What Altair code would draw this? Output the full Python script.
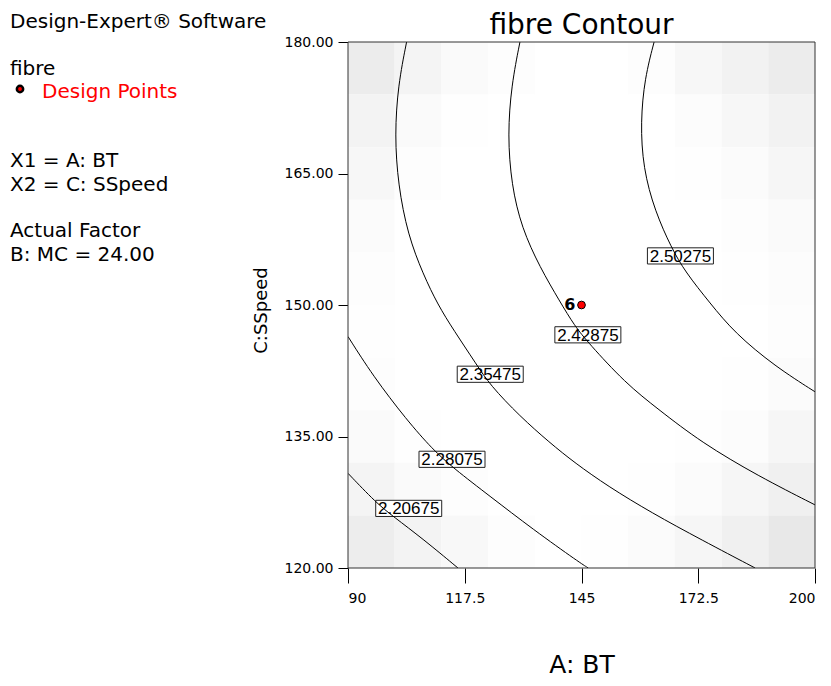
import altair as alt
import pandas as pd

# ---------------- data ----------------
LEVELS = ["2.20675", "2.28075", "2.35475", "2.42875", "2.50275"]

C1_X = [90.0, 96.7, 100.6, 107.7, 115.9]
C1_Y = [130.8, 127.4, 125.9, 123.3, 120.0]
C2_X = [90.0, 95.9, 103.8, 110.0, 114.8, 123.4, 133.6, 144.6, 146.6]
C2_Y = [146.4, 141.9, 136.9, 133.5, 131.4, 128.2, 124.4, 120.6, 120.0]
C3_X = [103.8, 101.8, 101.0, 101.8, 104.1, 107.7, 111.2, 114.8, 120.3, 123.4,
        130.5, 137.5, 143.4, 151.3, 161.5, 173.3, 185.9]
C3_Y = [180.0, 175.1, 169.4, 163.7, 158.0, 153.5, 150.0, 147.2, 143.2, 140.9,
        137.3, 134.3, 132.0, 129.3, 126.3, 123.2, 120.0]
C4_X = [130.5, 128.5, 127.6, 128.5, 130.9, 135.2, 139.9, 143.4, 146.6, 155.3,
        163.1, 173.3, 186.6, 200.0]
C4_Y = [180.0, 175.1, 169.4, 163.7, 158.8, 154.3, 150.4, 147.6, 145.7, 141.1,
        138.1, 134.3, 130.5, 127.2]
C5_X = [162.1, 159.9, 158.9, 159.5, 162.3, 166.2, 169.4, 175.3, 181.1, 190.6, 200.0]
C5_Y = [180.0, 175.9, 170.9, 165.6, 160.7, 156.5, 153.8, 150.2, 146.8, 143.0, 140.1]

LABEL_X = [104.3, 114.5, 123.5, 146.5, 168.3]
LABEL_Y = [126.8, 132.4, 142.1, 146.6, 155.6]

DP_X = [145.0]
DP_Y = [150.0]
DP_LABEL = ["6"]

X_TICKS = [90, 117.5, 145, 172.5, 200]
Y_TICKS = [120, 135, 150, 165, 180]

# background shading (grey intensity, rows top -> bottom, cols left -> right)
SHADE = [
    [237, 245, 250, 253, 255, 255, 253, 248, 243, 237],
    [244, 250, 254, 255, 255, 255, 255, 252, 248, 243],
    [248, 253, 255, 255, 255, 255, 255, 254, 251, 247],
    [251, 255, 255, 255, 255, 255, 255, 255, 253, 250],
    [253, 255, 255, 255, 255, 255, 255, 255, 254, 252],
    [254, 255, 255, 255, 255, 255, 255, 255, 255, 253],
    [253, 255, 255, 255, 255, 255, 255, 255, 254, 251],
    [250, 254, 255, 255, 255, 255, 255, 254, 252, 247],
    [245, 250, 253, 255, 255, 255, 254, 251, 247, 241],
    [238, 244, 249, 253, 255, 254, 251, 247, 241, 234],
]

TITLE = "fibre Contour"
PANEL_TEXT = ["Design-Expert\u00ae Software", "fibre", "Design Points",
              "X1 = A: BT", "X2 = C: SSpeed", "Actual Factor", "B: MC = 24.00"]
PANEL_COLOR = ["black", "black", "red", "black", "black", "black", "black"]

# ---------------- tables ----------------
W, H = 467, 526
FONT = "DejaVu Sans"
XMIN, XMAX, YMIN, YMAX = 90, 200, 120, 180

rows = []
for lev, xs, ys in zip(LEVELS, [C1_X, C2_X, C3_X, C4_X, C5_X],
                       [C1_Y, C2_Y, C3_Y, C4_Y, C5_Y]):
    for i, (a, b) in enumerate(zip(xs, ys)):
        rows.append({"level": lev, "order": i, "x": a, "y": b})
contours = pd.DataFrame(rows)

labels = pd.DataFrame({"level": LEVELS, "x": LABEL_X, "y": LABEL_Y})
design = pd.DataFrame({"x": DP_X, "y": DP_Y, "lab": DP_LABEL})

ncol, nrow = len(SHADE[0]), len(SHADE)
dx = (XMAX - XMIN) / ncol
dy = (YMAX - YMIN) / nrow
cells = []
for r, row in enumerate(SHADE):
    for c, v in enumerate(row):
        cells.append({"x0": XMIN + c * dx, "x1": XMIN + (c + 1) * dx,
                      "y1": YMAX - r * dy, "y0": YMAX - (r + 1) * dy, "v": v})
shade_df = pd.DataFrame(cells)

panel = pd.DataFrame({
    "text": PANEL_TEXT,
    "px": [-338, -338, -306, -338, -338, -338, -338],
    "py": [-14, 33, 56, 125, 149, 195, 219],
    "col": PANEL_COLOR,
})

xscale = alt.Scale(domain=[XMIN, XMAX], nice=False, zero=False)
yscale = alt.Scale(domain=[YMIN, YMAX], nice=False, zero=False)

xaxis = alt.Axis(values=X_TICKS, format=".1~f", title="A: BT", grid=False,
                 domain=False, tickSize=15, tickColor="black",
                 labelFont=FONT, labelFontSize=14, labelColor="black",
                 labelPadding=8, titleFont=FONT, titleFontSize=25,
                 titleFontWeight="normal", titleColor="black",
                 titleX=W / 2, titleY=104, titleBaseline="alphabetic",
                 titleAlign="center")
yaxis = alt.Axis(values=Y_TICKS, format=".2f", title="C:SSpeed", grid=False,
                 domain=False, tickSize=10, tickColor="black",
                 labelFont=FONT, labelFontSize=14, labelColor="black",
                 labelPadding=5, titleFont=FONT, titleFontSize=18,
                 titleFontWeight="normal", titleColor="black",
                 titleAngle=270, titleX=-82, titleY=268,
                 titleBaseline="alphabetic", titleAlign="center")

shade = alt.Chart(shade_df).mark_rect(strokeWidth=0).encode(
    x=alt.X("x0:Q", scale=xscale, axis=xaxis),
    x2="x1:Q",
    y=alt.Y("y0:Q", scale=yscale, axis=yaxis),
    y2="y1:Q",
    color=alt.Color("v:Q", scale=alt.Scale(domain=[230, 255],
                                           range=["#e4e4e4", "#ffffff"]),
                    legend=None),
)

boxes = alt.Chart(labels).mark_point(
    shape="M-1,-0.245H1V0.245H-1Z", size=66 * 66, filled=True,
    fill="white", stroke="#222", strokeWidth=1, opacity=1,
).encode(x=alt.X("x:Q", scale=xscale), y=alt.Y("y:Q", scale=yscale))

lines = alt.Chart(contours).mark_line(
    color="black", strokeWidth=1, interpolate="basis", clip=True
).encode(
    x=alt.X("x:Q", scale=xscale),
    y=alt.Y("y:Q", scale=yscale),
    detail="level:N",
    order="order:Q",
)

label_text = alt.Chart(labels).mark_text(
    font="Liberation Sans", fontSize=17, color="black", align="center",
    baseline="middle", dy=1
).encode(x=alt.X("x:Q", scale=xscale), y=alt.Y("y:Q", scale=yscale),
         text="level:N")

point = alt.Chart(design).mark_point(
    shape="circle", filled=True, fill="#ff0000", stroke="black",
    strokeWidth=1, size=60, opacity=1
).encode(x=alt.X("x:Q", scale=xscale), y=alt.Y("y:Q", scale=yscale))

point_label = alt.Chart(design).mark_text(
    font=FONT, fontSize=16, fontWeight="bold", color="black",
    align="right", baseline="middle", dx=-6
).encode(x=alt.X("x:Q", scale=xscale), y=alt.Y("y:Q", scale=yscale),
         text="lab:N")

border = alt.Chart(pd.DataFrame({"a": [0]})).mark_rect(
    filled=False, stroke="#333", strokeWidth=1, fill="transparent"
).encode(x=alt.value(0), x2=alt.value(W), y=alt.value(0), y2=alt.value(H))

panel_text = alt.Chart(panel).mark_text(
    font=FONT, fontSize=20, align="left", baseline="alphabetic"
).encode(
    x=alt.X("px:Q", scale=None, axis=None),
    y=alt.Y("py:Q", scale=None, axis=None),
    text="text:N",
    color=alt.Color("col:N", scale=None),
)

title_text = alt.Chart(pd.DataFrame({"t": [TITLE]})).mark_text(
    font=FONT, fontSize=28, color="black", align="center",
    baseline="alphabetic"
).encode(x=alt.value(W / 2), y=alt.value(-8), text="t:N")

legend_dot = alt.Chart(pd.DataFrame({"a": [0]})).mark_point(
    shape="circle", filled=True, fill="#ff0000", stroke="black",
    strokeWidth=2.5, size=40, opacity=1
).encode(x=alt.value(-328), y=alt.value(47))

chart = alt.layer(
    shade, boxes, lines, label_text, point, point_label, border,
    panel_text, title_text, legend_dot
).properties(
    width=W, height=H,
    autosize=alt.AutoSizeParams(type="none"),
    padding={"left": 340, "top": 34, "right": 8, "bottom": 110},
).configure_view(strokeWidth=0)

chart.save("out.html", embed_options={"renderer": "svg", "actions": False})
